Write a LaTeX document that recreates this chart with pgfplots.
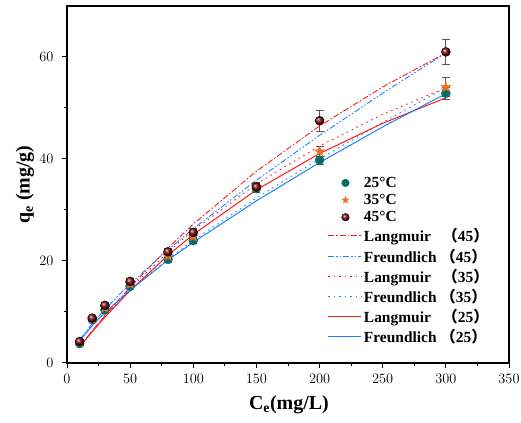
\documentclass[border=0pt]{standalone}
\usepackage{pgfplots}
\pgfplotsset{compat=1.18}
\usepackage{fontspec}
\setmainfont{Liberation Serif}
\newfontfamily\cjk{Noto Sans CJK SC}
\definecolor{teal25}{HTML}{0B6B6B}
\definecolor{orng35}{HTML}{F07020}
\definecolor{dred45}{HTML}{7A0A0A}
\definecolor{lred}{HTML}{FF1A1A}
\definecolor{lblue}{HTML}{1E82FF}
\pgfdeclareplotmark{fstar}{%
  \fill (90:\pgfplotmarksize) -- (126:0.42*\pgfplotmarksize) -- (162:\pgfplotmarksize) -- (198:0.42*\pgfplotmarksize)
   -- (234:\pgfplotmarksize) -- (270:0.42*\pgfplotmarksize) -- (306:\pgfplotmarksize) -- (342:0.42*\pgfplotmarksize)
   -- (18:\pgfplotmarksize) -- (54:0.42*\pgfplotmarksize) -- cycle;}
\pgfplotsset{
  markleg/.style={legend image code/.code={\draw[##1, mark size=3.8bp] plot coordinates {(17bp,0bp)};}},
  lineleg/.style={legend image code/.code={\draw[##1] (0bp,0bp) -- (33bp,0bp);}},
  ebar/.style={error bars/.cd, y dir=both, y explicit, error bar style={gray!70!black, line width=0.8pt}, error mark options={rotate=90, mark size=4bp, gray!70!black, line width=0.8pt}},
}
\begin{document}
\begin{tikzpicture}
\begin{axis}[
  name=ax,
  scale only axis,
  width=442bp, height=357bp,
  xmin=0, xmax=350, ymin=0, ymax=70,
  xtick={0,50,...,350}, ytick={0,20,40,60},
  minor x tick num=1, minor y tick num=1,
  tick align=outside, tick pos=left,
  major tick length=5bp, minor tick length=3bp,
  axis line style={line width=1.1pt},
  every tick/.style={line width=1pt, black},
  tick label style={font=\fontsize{14.5}{16}\selectfont},
  xticklabel shift=3bp, yticklabel shift=5bp,
  xlabel={\bfseries C\textsubscript{\bfseries e}(mg/L)},
  ylabel={\bfseries q\textsubscript{\bfseries e} (mg/g)},
  label style={font=\fontsize{20}{23}\selectfont},
  xlabel style={at={(axis description cs:0.502,-0.118)}, anchor=center},
  ylabel style={at={(axis description cs:-0.095,0.5)}, anchor=center},
  legend style={draw=none, fill=none, at={(axis description cs:0.59,0.527)}, anchor=north west,
    font=\fontsize{15.5}{17}\selectfont\bfseries, row sep=1.4bp, inner sep=0pt},
  legend cell align=left,
]
% fitted curves
\addplot[lred, line width=0.9pt, dash pattern=on 6pt off 2pt on 1.5pt off 2pt, forget plot] coordinates {
(10,3.22)(20,6.31)(30,9.28)(50,14.89)(80,22.56)(100,27.23)(150,37.6)(200,46.47)(250,54.12)(300,60.8)};
\addplot[lblue, line width=0.9pt, dash pattern=on 6pt off 2pt on 1.5pt off 2pt on 1.5pt off 2pt, forget plot] coordinates {
(10,4.55)(20,7.72)(30,10.52)(50,15.52)(80,22.2)(100,26.32)(150,35.84)(200,44.63)(250,52.9)(300,60.8)};
\addplot[lred, line width=0.9pt, dash pattern=on 1.5pt off 4pt, forget plot] coordinates {
(10,3.25)(20,6.32)(30,9.24)(50,14.62)(80,21.77)(100,26.0)(150,35.1)(200,42.55)(250,48.75)(300,54.0)};
\addplot[lblue, line width=0.9pt, dash pattern=on 1.5pt off 4pt, forget plot] coordinates {
(10,4.4)(20,7.33)(30,9.89)(50,14.41)(80,20.38)(100,24.02)(150,32.37)(200,40.04)(250,47.19)(300,54.0)};
\addplot[lred, line width=1pt, forget plot] coordinates {
(10,3.17)(20,6.16)(30,8.99)(50,14.21)(80,21.12)(100,25.2)(150,33.95)(200,41.07)(250,47.0)(300,52.0)};
\addplot[lblue, line width=1pt, forget plot] coordinates {
(10,4.4)(20,7.30)(30,9.9)(50,14.26)(80,20.2)(100,23.66)(150,31.8)(200,39.3)(250,46.3)(300,52.8)};
% data
\addplot[only marks, mark=*, mark size=4.5bp, mark options={fill=teal25, draw=teal25}, markleg, ebar]
 coordinates {
(10,3.8)+-(0,0.3)(20,8.5)+-(0,0.3)(30,10.4)+-(0,0.4)(50,15.0)+-(0,0.4)(80,20.3)+-(0,0.5)(100,24.0)+-(0,0.5)(150,34.2)+-(0,0.8)(200,39.8)+-(0,0.8)(300,52.9)+-(0,1.2)};
\addlegendentry{25°C}
\addplot[only marks, mark=fstar, mark size=5.5bp, mark options={fill=orng35, draw=orng35, line width=0.2pt}, markleg, ebar]
 coordinates {
(10,4.0)+-(0,0.3)(20,8.6)+-(0,0.3)(30,10.8)+-(0,0.4)(50,15.5)+-(0,0.4)(80,21.0)+-(0,0.5)(100,24.8)+-(0,0.5)(150,34.5)+-(0,0.8)(200,41.5)+-(0,1.0)(300,54.1)+-(0,1.9)};
\addlegendentry{35°C}
\addplot[only marks, mark=ball, mark size=4.5bp, mark options={ball color=dred45}, markleg, ebar]
 coordinates {
(10,4.2)+-(0,0.4)(20,8.8)+-(0,0.4)(30,11.3)+-(0,0.5)(50,16.0)+-(0,0.5)(80,21.8)+-(0,0.6)(100,25.6)+-(0,0.7)(150,34.5)+-(0,1.0)(200,47.5)+-(0,2.0)(300,61.0)+-(0,2.4)};
\addlegendentry{45°C}
\addlegendimage{lineleg, lred, line width=0.9pt, dash pattern=on 6pt off 2pt on 1.5pt off 2pt}
\addlegendentry{Langmuir\ \ \ {\cjk （}45{\cjk ）}}
\addlegendimage{lineleg, lblue, line width=0.9pt, dash pattern=on 6pt off 2pt on 1.5pt off 2pt on 1.5pt off 2pt}
\addlegendentry{Freundlich\ {\cjk （}45{\cjk ）}}
\addlegendimage{lineleg, lred, line width=0.9pt, dash pattern=on 1.5pt off 4pt}
\addlegendentry{Langmuir\ \ \ {\cjk （}35{\cjk ）}}
\addlegendimage{lineleg, lblue, line width=0.9pt, dash pattern=on 1.5pt off 4pt}
\addlegendentry{Freundlich\ {\cjk （}35{\cjk ）}}
\addlegendimage{lineleg, lred, line width=1pt}
\addlegendentry{Langmuir\ \ \ {\cjk （}25{\cjk ）}}
\addlegendimage{lineleg, lblue, line width=1pt}
\addlegendentry{Freundlich\ {\cjk （}25{\cjk ）}}
\end{axis}
\pgfresetboundingbox
\path ([xshift=-67bp,yshift=-60bp]ax.south west) rectangle ([xshift=12bp,yshift=6bp]ax.north east);
\end{tikzpicture}
\end{document}
